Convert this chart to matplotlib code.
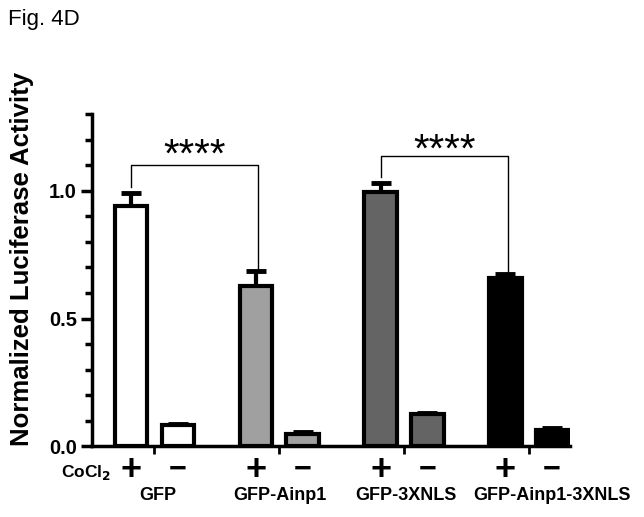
import numpy as np
import matplotlib.pyplot as plt

plt.rcParams['font.family'] = ['Liberation Sans', 'DejaVu Sans']

groups = ["GFP", "GFP-Ainp1", "GFP-3XNLS", "GFP-Ainp1-3XNLS"]
plus_vals = [0.94, 0.627, 0.996, 0.659]
plus_err = [0.05, 0.06, 0.035, 0.015]
minus_vals = [0.082, 0.047, 0.125, 0.063]
minus_err = [0.003, 0.008, 0.005, 0.008]
colors = ["white", "#a0a0a0", "#646464", "black"]


def main():
    fig = plt.figure(figsize=(6.44, 5.17), dpi=100)
    ax = fig.add_axes([0.143, 0.137, 0.742, 0.642])

    x = np.arange(len(groups))
    off = 0.187
    w = 0.26
    lw = 3.0

    ax.bar(x - off, plus_vals, w, color=colors, edgecolor="black", linewidth=lw, zorder=3)
    ax.bar(x + off, minus_vals, w, color=colors, edgecolor="black", linewidth=lw, zorder=3)
    ax.errorbar(x - off, plus_vals, yerr=[np.zeros(len(x)), plus_err], fmt="none",
                ecolor="black", elinewidth=3, capsize=7, capthick=3.5, zorder=2)
    ax.errorbar(x + off, minus_vals, yerr=[np.zeros(len(x)), minus_err], fmt="none",
                ecolor="black", elinewidth=3, capsize=7, capthick=3.5, zorder=2)

    # significance brackets
    def bracket(i, j, y_top, y_left, y_right, y_txt):
        xl, xr = x[i] - off, x[j] - off + 0.02
        ax.plot([xl, xl, xr, xr], [y_left, y_top, y_top, y_right], color="black",
                lw=1.0, zorder=4, clip_on=False)
        ax.text((xl + xr) / 2, y_txt, "****", ha="center", va="baseline",
                fontsize=29, zorder=5)

    bracket(0, 1, 1.10, 1.016, 0.69, 1.095)
    bracket(2, 3, 1.137, 1.055, 0.68, 1.114)

    ax.set_xlim(-0.5, 3.33)
    ax.set_ylim(0, 1.3)
    ax.set_yticks([0.0, 0.5, 1.0])
    ax.set_yticklabels(["0.0", "0.5", "1.0"])
    ax.set_yticks(np.arange(0, 1.31, 0.1), minor=True)
    ax.set_xticks(x)
    ax.set_xticklabels([])

    for s in ["top", "right"]:
        ax.spines[s].set_visible(False)
    for s in ["left", "bottom"]:
        ax.spines[s].set_linewidth(2.5)
    ax.tick_params(axis="y", which="major", length=8, width=2.5, labelsize=14.5, pad=3)
    ax.tick_params(axis="y", which="minor", length=5, width=2.5)
    ax.tick_params(axis="x", which="major", length=6, width=2)
    for lab in ax.get_yticklabels():
        lab.set_fontweight("bold")

    fig.text(0.034, 0.499, "Normalized Luciferase Activity", rotation=90,
             ha="center", va="center", fontsize=18.5, fontweight="bold")

    # group labels are nudged right in the original to avoid overlap
    label_shift = [0.024, 0.008, 0.016, 0.19]
    tr = ax.get_xaxis_transform()
    for i in x:
        ax.text(i - off, -0.072, "+", transform=tr, ha="center", va="center",
                fontsize=26, fontweight="bold")
        ax.text(i + off, -0.072, "\u2212", transform=tr, ha="center", va="center",
                fontsize=22, fontweight="bold")
        ax.text(i + label_shift[i], -0.150, groups[i], transform=tr, ha="center",
                va="center", fontsize=13, fontweight="bold")
    fig.text(0.134, 0.087, "CoCl$_\\mathbf{2}$", ha="center", va="center",
             fontsize=12.5, fontweight="bold")

    fig.text(0.012, 0.963, "Fig. 4D", ha="left", va="center", fontsize=16)

    fig.savefig("out.png", dpi=100)


if __name__ == "__main__":
    main()
